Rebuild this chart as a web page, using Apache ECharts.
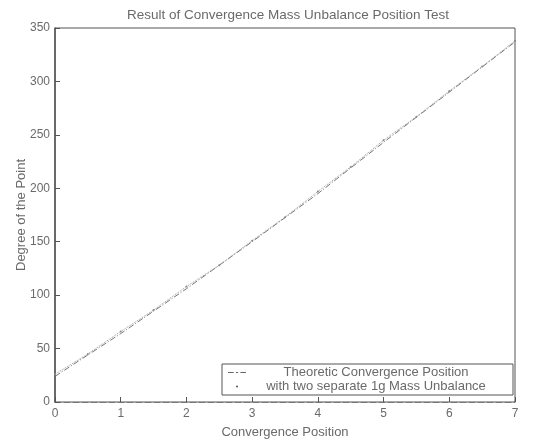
<!DOCTYPE html>
<html>
<head>
<meta charset="utf-8">
<script src="https://cdn.jsdelivr.net/npm/echarts@6/dist/echarts.min.js"></script>
<style>html,body{margin:0;padding:0;background:#fff;}#c{width:540px;height:444px;}</style>
</head>
<body>
<div id="c"></div>
<script>
var titleText = 'Result of Convergence Mass Unbalance Position Test';
var xLabel = 'Convergence Position';
var yLabel = 'Degree of the Point';
var seriesNames = ['Theoretic Convergence Position', 'with two separate 1g Mass Unbalance'];
var theoryX = [0, 1, 2, 3, 4, 5, 6, 7];
var theoryY = [24, 64, 106, 150, 195, 243, 290, 337];
var measX = [0, 0.5, 1, 1.5, 2, 2.5, 3, 3.5, 4, 4.5, 5, 5.5, 6, 6.5, 7];
var measY = [26, 45, 66, 86, 108, 128, 151, 173, 197, 220, 245, 267, 291, 314, 338];

var chart = echarts.init(document.getElementById('c'), null, {renderer: 'canvas'});
var font = 'Liberation Sans, Arial, sans-serif';
var gray = '#6a6a6a';
chart.setOption({
  animation: false,
  backgroundColor: '#ffffff',
  title: {
    text: titleText, left: 283, top: 3, textAlign: 'center',
    textStyle: {fontSize: 13.5, fontWeight: 'normal', color: gray, fontFamily: font}
  },
  legend: {
    orient: 'vertical', right: 27, bottom: 49,
    backgroundColor: '#fff', borderColor: '#555', borderWidth: 1,
    padding: [2, 12, 2, 6], itemGap: 1, itemWidth: 18, itemHeight: 2,
    formatter: function (n) { return '{t|' + n + '}'; },
    textStyle: {
      fontSize: 13, color: gray, fontFamily: font,
      rich: {t: {width: 250, align: 'center', fontSize: 13, color: gray, fontFamily: font, lineHeight: 14}}
    },
    data: [
      {name: seriesNames[0], icon: 'path://M0,0H5V1H0Z M7,0H9V1H7Z M11,0H16V1H11Z', itemStyle: {color: '#666'}},
      {name: seriesNames[1], icon: 'circle', itemStyle: {color: '#555'}}
    ]
  },
  grid: {left: 55, right: 25, top: 28, bottom: 41, show: true, borderColor: '#555', borderWidth: 1},
  xAxis: {
    type: 'value', min: 0, max: 7, interval: 1,
    name: xLabel, nameLocation: 'middle', nameGap: 24,
    nameTextStyle: {fontSize: 13, color: gray, fontFamily: font},
    axisLine: {show: true, lineStyle: {color: '#777', type: [6, 3]}},
    axisTick: {inside: true, length: 5, lineStyle: {color: '#555'}},
    axisLabel: {fontSize: 12, color: gray, fontFamily: font, margin: 6},
    splitLine: {show: false}
  },
  yAxis: {
    type: 'value', min: 0, max: 350, interval: 50,
    name: yLabel, nameLocation: 'middle', nameGap: 27, nameRotate: 90, nameMoveOverlap: false,
    nameTextStyle: {fontSize: 13, color: gray, fontFamily: font},
    axisLine: {show: true, lineStyle: {color: '#555', width: 1.5}},
    axisTick: {inside: true, length: 5, lineStyle: {color: '#555'}},
    axisLabel: {fontSize: 12, color: gray, fontFamily: font, margin: 5},
    splitLine: {show: false}
  },
  series: [
    {
      name: seriesNames[0], type: 'line',
      data: theoryX.map(function (x, i) { return [x, theoryY[i]]; }),
      showSymbol: false, symbol: 'none',
      lineStyle: {color: '#777', width: 1, type: [6, 2, 1, 2]},
      itemStyle: {color: '#777'}
    },
    {
      name: seriesNames[1], type: 'line',
      data: measX.map(function (x, i) { return [x, measY[i]]; }),
      symbol: 'circle', symbolSize: 2,
      lineStyle: {color: '#999', width: 1, type: 'dotted'},
      itemStyle: {color: '#888'}
    }
  ]
});
</script>
</body>
</html>
